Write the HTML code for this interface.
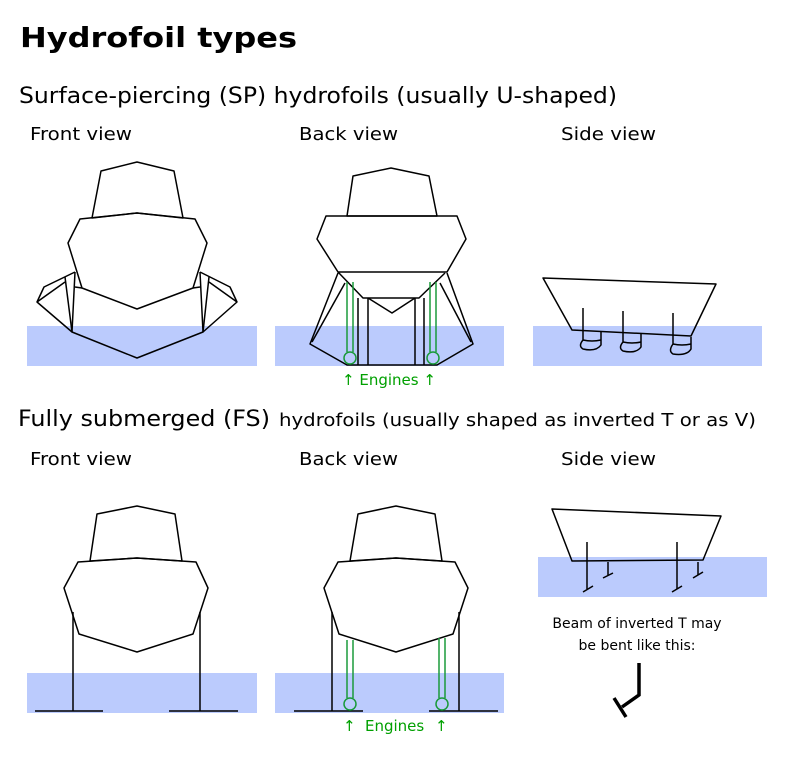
<!DOCTYPE html>
<html><head><meta charset="utf-8"><style>html,body{margin:0;padding:0;background:#fff}svg{display:block}</style></head>
<body>
<svg width="800" height="770" viewBox="0 0 800 770" xmlns="http://www.w3.org/2000/svg" font-family="DejaVu Sans, Liberation Sans, sans-serif">
<rect width="800" height="770" fill="#fff"/>
<text x="20" y="47" font-size="28" font-weight="bold" textLength="277" lengthAdjust="spacingAndGlyphs">Hydrofoil types</text>
<text x="19" y="103" font-size="22" textLength="598" lengthAdjust="spacingAndGlyphs">Surface-piercing (SP) hydrofoils (usually U-shaped)</text>
<g font-size="18">
<text x="30" y="140" textLength="102" lengthAdjust="spacingAndGlyphs">Front view</text>
<text x="299" y="140" textLength="99" lengthAdjust="spacingAndGlyphs">Back view</text>
<text x="561" y="140" textLength="95" lengthAdjust="spacingAndGlyphs">Side view</text>
<text x="30" y="465" textLength="102" lengthAdjust="spacingAndGlyphs">Front view</text>
<text x="299" y="465" textLength="99" lengthAdjust="spacingAndGlyphs">Back view</text>
<text x="561" y="465" textLength="95" lengthAdjust="spacingAndGlyphs">Side view</text>
</g>
<text x="18" y="426" font-size="22" textLength="252" lengthAdjust="spacingAndGlyphs">Fully submerged (FS)</text>
<text x="279" y="426" font-size="18" textLength="477" lengthAdjust="spacingAndGlyphs">hydrofoils (usually shaped as inverted T or as V)</text>

<g fill="#bbcbfd">
<rect x="27" y="326" width="230" height="40"/>
<rect x="275" y="326" width="229" height="40"/>
<rect x="533" y="326" width="229" height="40"/>
<rect x="27" y="673" width="230" height="40"/>
<rect x="275" y="673" width="229" height="40"/>
<rect x="538" y="557" width="229" height="40"/>
</g>

<g fill="none" stroke="#000" stroke-width="1.5" stroke-linejoin="round">
<!-- SP front -->
<polygon points="101,171 137,162 174,171 183,218 137,213 92,218"/>
<polygon points="80,219 137,213 195,219 207,243 193,288 137,309 82,288 68,243"/>
<polyline points="75,272 72,332 137,358 203,332 200,272"/>
<polyline points="82,288 75,287"/>
<polyline points="193,288 200,287"/>
<polyline points="75,272 44,287 37,302 72,332"/>
<polyline points="65,277 72,332"/>
<polyline points="37,302 65,282"/>
<polyline points="200,272 230,287 237,302 203,332"/>
<polyline points="209,277 203,332"/>
<polyline points="237,302 209,282"/>
<!-- SP back -->
<polygon points="353,176 391,168 429,176 437,216 347,216"/>
<polygon points="326,216 457,216 466,239 447,272 338,272 317,239"/>
<polyline points="338,272 363,298 419,298 445,273"/>
<polyline points="368,298 392,313 415,298"/>
<line x1="358" y1="298" x2="358" y2="365"/><line x1="368" y1="298" x2="368" y2="365"/>
<line x1="415" y1="298" x2="415" y2="365"/><line x1="424" y1="298" x2="424" y2="365"/>
<polyline points="338,273 310,344 347,365 437,365 473,344 447,273"/>
<line x1="345" y1="283" x2="312" y2="342"/>
<line x1="440" y1="283" x2="471" y2="342"/>
<!-- SP side -->
<polygon points="543,278 716,284 691,336 572,330"/>
<line x1="583" y1="308" x2="583" y2="331"/>
<line x1="623" y1="311" x2="623" y2="333"/>
<line x1="673" y1="313" x2="673" y2="336"/>
<path d="M583,331 V340 Q578,346 583,349 Q596,352 601,345 V332"/>
<path d="M583,340 Q592,342 601,340"/>
<path d="M623,333 V342 Q618,348 623,351 Q636,354 641,347 V334"/>
<path d="M623,342 Q632,344 641,342"/>
<path d="M673,336 V344 Q668,351 673,354 Q687,356 691,349 V337"/>
<path d="M673,344 Q682,346 691,344"/>
<!-- FS front -->
<polygon points="97,514 137,506 175,514 182,561 137,558 90,561"/>
<polygon points="78,562 137,558 196,562 208,588 193,634 137,652 79,634 64,588"/>
<line x1="73" y1="612" x2="73" y2="711"/><line x1="200" y1="612" x2="200" y2="711"/>
<line x1="35" y1="711" x2="103" y2="711"/><line x1="169" y1="711" x2="238" y2="711"/>
<!-- FS back -->
<polygon points="358,514 396,506 435,514 442,561 396,558 350,561"/>
<polygon points="338,562 396,558 455,562 468,588 453,634 396,652 339,634 324,588"/>
<line x1="332" y1="612" x2="332" y2="711"/><line x1="459" y1="612" x2="459" y2="711"/>
<line x1="294" y1="711" x2="363" y2="711"/><line x1="429" y1="711" x2="498" y2="711"/>
<!-- FS side -->
<polygon points="552,509 721,516 703,560 572,561"/>
<line x1="587" y1="542" x2="587" y2="589"/><line x1="583" y1="592" x2="593" y2="586"/>
<line x1="608" y1="562" x2="608" y2="575"/><line x1="603" y1="578" x2="613" y2="573"/>
<line x1="677" y1="542" x2="677" y2="589"/><line x1="672" y1="592" x2="682" y2="586"/>
<line x1="698" y1="562" x2="698" y2="575"/><line x1="693" y1="578" x2="703" y2="572"/>
</g>
<g fill="none" stroke="#000" stroke-width="3.5">
<polyline points="639,663 639,695 622,707"/>
<line x1="614" y1="698" x2="626" y2="717"/>
</g>
<!-- engines -->
<g fill="none" stroke="#1a9a3a" stroke-width="1.5">
<line x1="347" y1="282" x2="347" y2="352"/><line x1="353" y1="282" x2="353" y2="352"/>
<circle cx="350" cy="358" r="6"/>
<line x1="430" y1="282" x2="430" y2="352"/><line x1="436" y1="282" x2="436" y2="352"/>
<circle cx="433" cy="358" r="6"/>
<line x1="347" y1="640" x2="347" y2="698"/><line x1="353" y1="640" x2="353" y2="698"/>
<circle cx="350" cy="704" r="6"/>
<line x1="439" y1="638" x2="439" y2="698"/><line x1="445" y1="638" x2="445" y2="698"/>
<circle cx="442" cy="704" r="6"/>
</g>
<g fill="#00a000" font-size="15">
<text x="342" y="385">↑ Engines ↑</text>
<text x="343" y="731">↑</text><text x="365" y="731">Engines</text><text x="435" y="731">↑</text>
</g>
<g font-size="14" fill="#000" text-anchor="middle">
<text x="637" y="628">Beam of inverted T may</text>
<text x="637" y="650">be bent like this:</text>
</g>
</svg>
</body></html>
